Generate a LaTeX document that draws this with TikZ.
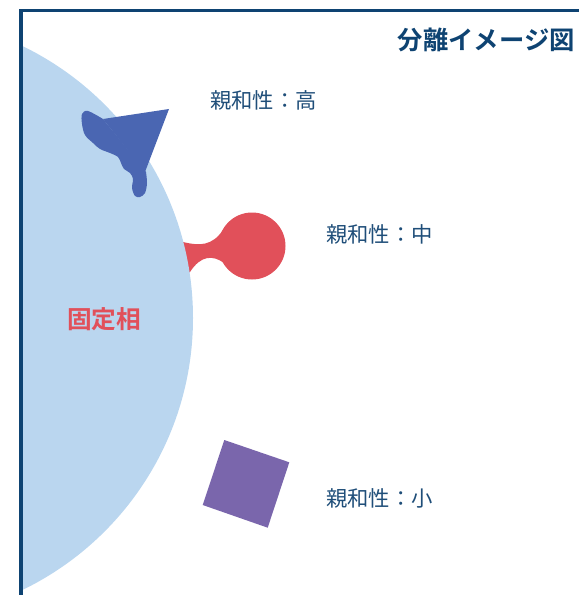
\documentclass[tikz,border=0pt]{standalone}
\usepackage{fontspec}
\setmainfont{Noto Sans CJK JP}
\newfontfamily\jpbold{Noto Sans CJK JP Bold}
\definecolor{phaseblue}{HTML}{BAD6EF}
\definecolor{highblue}{HTML}{4A66B2}
\definecolor{midred}{HTML}{E1505A}
\definecolor{lowpurple}{HTML}{7A66AC}
\definecolor{framenavy}{HTML}{0E4372}
\definecolor{labelnavy}{HTML}{1F4E79}
\tikzset{
  affinity/.style={anchor=west, inner sep=0pt, text=labelnavy, font=\fontsize{16}{16}\selectfont},
  heading/.style={anchor=east, inner sep=0pt, text=framenavy, font=\jpbold\fontsize{19}{19}\selectfont},
  phaselabel/.style={inner sep=0pt, text=midred, font=\jpbold\fontsize{18.5}{18.5}\selectfont},
  frameline/.style={draw=framenavy, line width=2.6pt, line join=miter}
}
\begin{document}
\begin{tikzpicture}[x=0.75pt, y=-0.75pt]
  \useasboundingbox (0,0) rectangle (579,595);

  % medium-affinity molecule: neck and head, partly under the stationary phase
  \fill[midred] (170,236) -- (183,242) .. controls (200,246) and (212,246) .. (223,230)
    -- (240,246) -- (224,263) .. controls (213,255) and (201,255) .. (190,272)
    -- (175,280) -- cycle;
  \fill[midred] (252,246) circle[radius=33.5];

  % stationary phase
  \begin{scope}
    \clip (21,0) rectangle (579,595);
    \fill[phaseblue] (-109,318) circle[radius=302];
  \end{scope}

  % high-affinity molecule spreading into the phase
  \fill[highblue] plot[smooth, tension=0.55] coordinates {
      (103,119) (88,111) (82,114) (82,124) (85,135) (93,143) (100,149) (110,153)
      (118,157) (121,163) (124,169) (130,173) (133,179) (132,188) (135,196)
      (140,197) (145,193) (147,183) (146,172)} -- cycle;
  \fill[highblue] (103,119) -- (169,109) -- (145,172) -- cycle;

  % low-affinity molecule
  \fill[lowpurple] (224.3,440) -- (289.3,462.3) -- (267.7,527.7) -- (202.7,505) -- cycle;

  % texts
  \node[heading] (title) at (575,40) {分離イメージ図};
  \node[phaselabel] (phase) at (104,319) {固定相};
  \node[affinity] (high) at (210,100) {親和性：高};
  \node[affinity] (mid) at (326,234) {親和性：中};
  \node[affinity] (low) at (326,498) {親和性：小};

  % frame
  \draw[frameline] (21,595) -- (21,10.5) -- (579,10.5);
\end{tikzpicture}
\end{document}
